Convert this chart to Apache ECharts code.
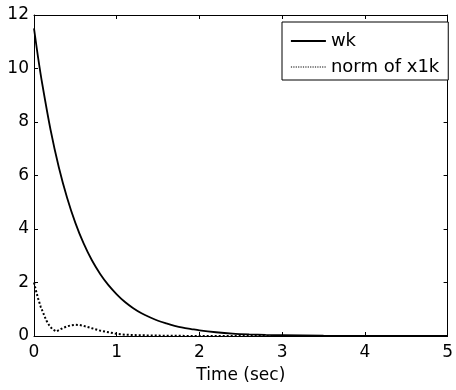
<!DOCTYPE html>
<html>
<head>
<meta charset="utf-8">
<script src="https://cdn.jsdelivr.net/npm/echarts@6/dist/echarts.min.js"></script>
<style>html,body{margin:0;padding:0;background:#fff}#c{width:456px;height:390px}</style>
</head>
<body>
<div id="c"></div>
<script>
var timeWk = [0,0.05,0.1,0.2,0.3,0.4,0.5,0.6,0.7,0.8,0.9,1.0,1.1,1.2,1.3,1.4,1.5,1.6,1.7,1.8,1.9,2.0,2.2,2.4,2.6,2.8,3.0,3.5,4.0,4.5,5.0];
var wk     = [11.5,10.4,9.42,7.71,6.31,5.17,4.23,3.46,2.83,2.32,1.90,1.56,1.27,1.04,0.85,0.70,0.57,0.47,0.38,0.31,0.26,0.21,0.14,0.09,0.06,0.04,0.03,0.01,0.005,0.0,0.0];
var timeX  = [0,0.03,0.05,0.08,0.1,0.13,0.15,0.18,0.2,0.23,0.27,0.3,0.35,0.4,0.45,0.5,0.55,0.6,0.7,0.8,0.9,1.0,1.1,1.2,1.4,1.6,2.0,3.0,4.0,5.0];
var x1k    = [2.0,1.62,1.4,1.1,0.95,0.72,0.58,0.42,0.33,0.24,0.17,0.22,0.3,0.36,0.4,0.42,0.41,0.38,0.29,0.2,0.14,0.08,0.05,0.035,0.02,0.01,0.0,0.0,0.0,0.0];
var xTicks = {min:0, max:5, interval:1};
var yTicks = {min:0, max:12, interval:2};
var seriesNames = ['wk', 'norm of x1k'];

function pairs(t, v){ return t.map(function(x,i){ return [x, v[i]]; }); }

var font = 'DejaVu Sans';
var chart = echarts.init(document.getElementById('c'));
var tickStyle = {show:true, inside:true, length:4, lineStyle:{color:'#000', width:1}};
chart.setOption({
  animation:false,
  grid:{left:34, right:3, top:15, bottom:54, containLabel:false},
  legend:{
    left:282, top:22, orient:'vertical',
    backgroundColor:'#fff', borderColor:'#000', borderWidth:1, borderRadius:0,
    padding:[10,9,4,8], itemGap:8, itemWidth:35, itemHeight:14,
    itemStyle:{opacity:0},
    textStyle:{fontFamily:font, fontSize:18, color:'#000'},
    data:[{name:seriesNames[0], lineStyle:{width:1.8}}, {name:seriesNames[1], lineStyle:{width:1.2, type:[1.2,1.2]}}]
  },
  xAxis:[{
    type:'value', min:xTicks.min, max:xTicks.max, interval:xTicks.interval,
    name:'Time (sec)', nameLocation:'middle', nameGap:31,
    nameTextStyle:{fontFamily:font, fontSize:17, color:'#000'},
    axisLine:{show:true, onZero:false, lineStyle:{color:'#000', width:1}},
    axisTick:tickStyle, splitLine:{show:false},
    axisLabel:{fontFamily:font, fontSize:17, color:'#000', margin:8}
  },{
    type:'value', position:'top', min:xTicks.min, max:xTicks.max, interval:xTicks.interval,
    axisLine:{show:true, onZero:false, lineStyle:{color:'#000', width:1}},
    axisTick:tickStyle, splitLine:{show:false}, axisLabel:{show:false}
  }],
  yAxis:[{
    type:'value', min:yTicks.min, max:yTicks.max, interval:yTicks.interval,
    axisLine:{show:true, onZero:false, lineStyle:{color:'#000', width:1}},
    axisTick:tickStyle, splitLine:{show:false},
    axisLabel:{fontFamily:font, fontSize:17, color:'#000', margin:5}
  },{
    type:'value', position:'right', min:yTicks.min, max:yTicks.max, interval:yTicks.interval,
    axisLine:{show:true, onZero:false, lineStyle:{color:'#000', width:1}},
    axisTick:tickStyle, splitLine:{show:false}, axisLabel:{show:false}
  }],
  series:[{
    name:seriesNames[0], type:'line', showSymbol:false, symbol:'none',
    data:pairs(timeWk, wk), smooth:0.3,
    lineStyle:{color:'#000', width:1.8, type:'solid'}, itemStyle:{color:'#000'}
  },{
    name:seriesNames[1], type:'line', showSymbol:false, symbol:'none',
    data:pairs(timeX, x1k), smooth:false,
    lineStyle:{color:'#000', width:2, type:[2,2]}, itemStyle:{color:'#000'}
  },{
    type:'line', xAxisIndex:1, yAxisIndex:1, data:[], silent:true
  }]
});
</script>
</body>
</html>
